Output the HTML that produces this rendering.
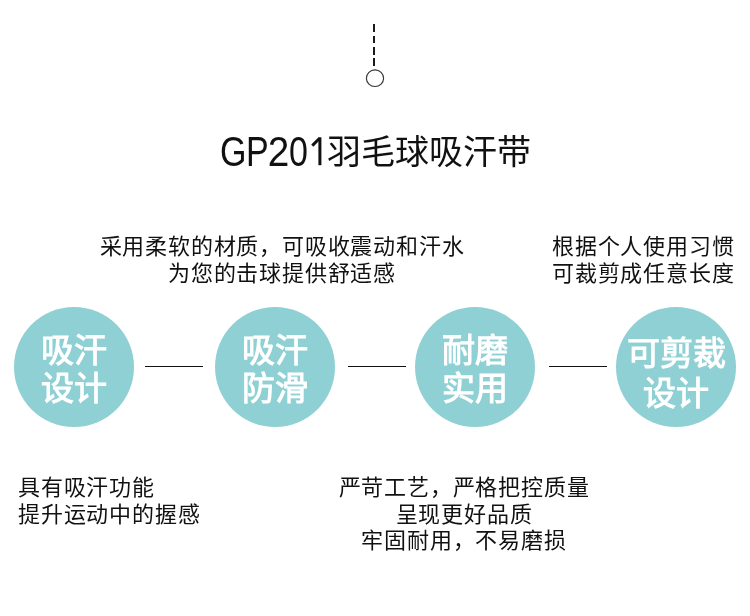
<!DOCTYPE html>
<html lang="zh-CN">
<head>
<meta charset="utf-8">
<style>
html,body{margin:0;padding:0;background:#fff;}
body{width:750px;height:616px;position:relative;overflow:hidden;font-family:"Liberation Sans",sans-serif;color:#111;}
.abs{position:absolute;}
.dash{position:absolute;left:373px;width:2px;background:#1a1a1a;}
.title{position:absolute;will-change:transform;left:327px;top:128px;font-size:34px;line-height:48px;white-space:nowrap;color:#111;}
.lat{position:absolute;will-change:transform;top:129.8px;font-size:34px;line-height:48px;color:#111;transform-origin:50% 36.5px;transform:scaleY(1.226);}
.txt{position:absolute;will-change:transform;font-size:22px;line-height:26.5px;letter-spacing:0.8px;white-space:nowrap;color:#111;}
.c{position:absolute;width:120px;height:120px;border-radius:50%;background:#8ed0d3;top:307.4px;}
.ct{position:absolute;will-change:transform;left:-20px;width:160px;text-align:center;color:#fff;font-weight:bold;font-size:33px;line-height:38px;white-space:nowrap;}
.ln{position:absolute;height:1px;background:#111;top:366px;}
</style>
</head>
<body>
<div class="dash" style="top:24px;height:8px"></div>
<div class="dash" style="top:35.5px;height:7.5px"></div>
<div class="dash" style="top:47px;height:8px"></div>
<div class="dash" style="top:58px;height:8px"></div>
<svg class="abs" style="left:0;top:0" width="750" height="100"><ellipse cx="375" cy="78.2" rx="8.6" ry="8.3" fill="none" stroke="#333" stroke-width="1.15"/></svg>

<span class="lat" style="left:220px">G</span>
<span class="lat" style="left:246px">P</span>
<span class="lat" style="left:268.5px;transform:scale(1.14,1.226)">2</span>
<span class="lat" style="left:289px">0</span>
<svg class="abs" style="left:300px;top:130px" width="30" height="40"><rect x="18.4" y="7.3" width="3" height="27.9" fill="#111"/><line x1="12.3" y1="15.6" x2="19.6" y2="8.3" stroke="#111" stroke-width="3"/></svg>
<div class="title">羽毛球吸汗带</div>

<div class="txt" style="left:0;width:564px;top:234px;text-align:center">采用柔软的材质，可吸收震动和汗水<br>为您的击球提供舒适感</div>
<div class="txt" style="left:552.3px;top:234px">根据个人使用习惯<br>可裁剪成任意长度</div>

<div class="c" style="left:14.2px"><div class="ct" style="top:25px">吸汗<br>设计</div></div>
<div class="c" style="left:214.8px"><div class="ct" style="top:25px">吸汗<br>防滑</div></div>
<div class="c" style="left:414.75px"><div class="ct" style="top:25px">耐磨<br>实用</div></div>
<div class="c" style="left:615.5px"><div class="ct" style="top:26.8px;line-height:39.5px">可剪裁<br>设计</div></div>

<div class="ln" style="left:145px;width:58px"></div>
<div class="ln" style="left:348px;width:58px"></div>
<div class="ln" style="left:549px;width:58px"></div>

<div class="txt" style="left:17.6px;top:474px;line-height:27px">具有吸汗功能<br>提升运动中的握感</div>
<div class="txt" style="left:164px;width:600px;top:474.5px;line-height:26.5px;text-align:center">严苛工艺，严格把控质量<br>呈现更好品质<br>牢固耐用，不易磨损</div>
</body>
</html>
